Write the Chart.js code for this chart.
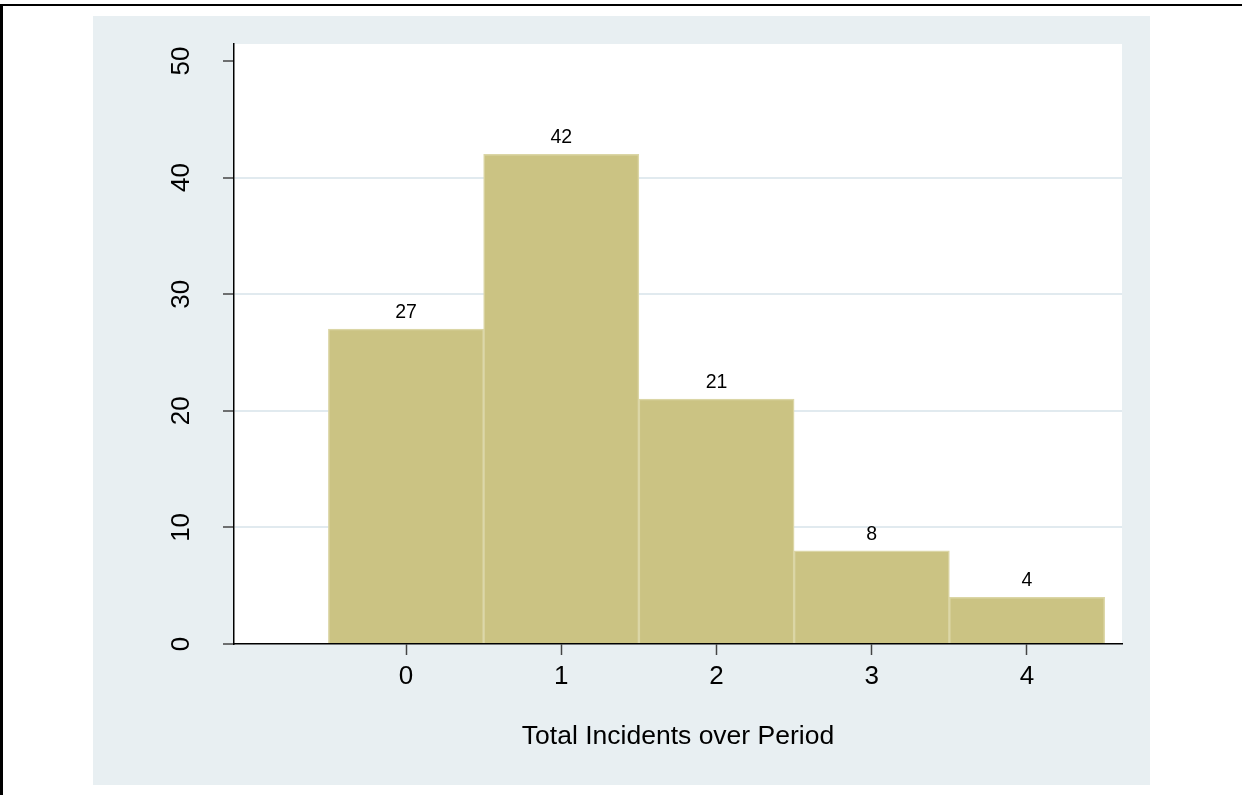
<!DOCTYPE html>
<html>
<head>
<meta charset="utf-8">
<script src="https://cdn.jsdelivr.net/npm/chart.js@4"></script>
<style>
  body { margin: 0; background: #fff; width: 1242px; height: 795px; overflow: hidden; position: relative; }
  #frame { position: absolute; left: 0; top: 4px; width: 1260px; height: 820px; border-left: 3px solid #000; border-top: 2px solid #000; }
  #panel { position: absolute; left: 93px; top: 16px; width: 1057px; height: 769px; background: #e8eff2; }
</style>
</head>
<body>
<div id="frame"></div>
<div id="panel"><canvas id="hist"></canvas></div>
<script>
// histogram data
const categories = [0, 1, 2, 3, 4];
const counts = [27, 42, 21, 8, 4];
const yTicks = [0, 10, 20, 30, 40, 50];
const xTitle = 'Total Incidents over Period';

const fontFam = "'Liberation Sans', Arial, sans-serif";

// white plot region + rotated y labels + value labels over bars
const stataLook = {
  id: 'stataLook',
  beforeDraw(chart) {
    const a = chart.chartArea;
    const c = chart.ctx;
    c.save();
    c.fillStyle = '#ffffff';
    c.fillRect(a.left, a.top, a.right - a.left, a.bottom - a.top);
    c.restore();
  },
  afterDraw(chart) {
    const c = chart.ctx;
    const ys = chart.scales.y;
    c.save();
    c.fillStyle = '#000';
    c.font = '26px ' + fontFam;
    c.textAlign = 'center';
    c.textBaseline = 'alphabetic';
    yTicks.forEach(v => {
      c.save();
      c.translate(ys.right - 45, ys.getPixelForValue(v));
      c.rotate(-Math.PI / 2);
      c.fillText(String(v), 0, 0);
      c.restore();
    });
    c.restore();
  },
  afterDatasetsDraw(chart) {
    const c = chart.ctx;
    const meta = chart.getDatasetMeta(0);
    c.save();
    c.fillStyle = '#000';
    c.font = '19.5px ' + fontFam;
    c.textAlign = 'center';
    c.textBaseline = 'alphabetic';
    meta.data.forEach((bar, i) => {
      c.fillText(String(counts[i]), bar.x, bar.y - 11);
    });
    c.restore();
  }
};

new Chart(document.getElementById('hist'), {
  type: 'bar',
  data: {
    datasets: [{
      data: categories.map((c, i) => ({ x: c, y: counts[i] })),
      backgroundColor: '#cbc383',
      borderColor: '#dbd6a6',
      borderWidth: 1.5,
      barPercentage: 1,
      categoryPercentage: 1
    }]
  },
  options: {
    responsive: true,
    maintainAspectRatio: false,
    animation: false,
    layout: { padding: { left: 0, top: 28, right: 28, bottom: 0 } },
    plugins: { legend: { display: false }, tooltip: { enabled: false } },
    scales: {
      x: {
        type: 'linear',
        min: -1.108,
        max: 4.612,
        offset: false,
        afterBuildTicks: s => { s.ticks = categories.map(v => ({ value: v })); },
        afterFit: s => { s.height = 141; },
        ticks: { font: { family: fontFam, size: 26 }, color: '#000', padding: 6, maxRotation: 0 },
        grid: { offset: false, drawOnChartArea: false, tickLength: 11, tickColor: '#444', tickWidth: 1.5 },
        border: { color: '#000', width: 1.5 },
        title: { display: true, text: xTitle, color: '#000', font: { family: fontFam, size: 26.5 }, padding: { top: 0, bottom: 32 } }
      },
      y: {
        type: 'linear',
        min: 0,
        max: 51.46,
        afterBuildTicks: s => { s.ticks = yTicks.map(v => ({ value: v })); },
        afterFit: s => { s.width = 141; },
        ticks: { display: false },
        grid: {
          color: ctx => (ctx.tick && ctx.tick.value > 0 && ctx.tick.value < 50) ? '#e1eaef' : 'rgba(0,0,0,0)',
          lineWidth: 2,
          tickLength: 11,
          tickColor: '#444',
          tickWidth: 1.5
        },
        border: { color: '#000', width: 1.5 }
      }
    }
  },
  plugins: [stataLook]
});
</script>
</body>
</html>
